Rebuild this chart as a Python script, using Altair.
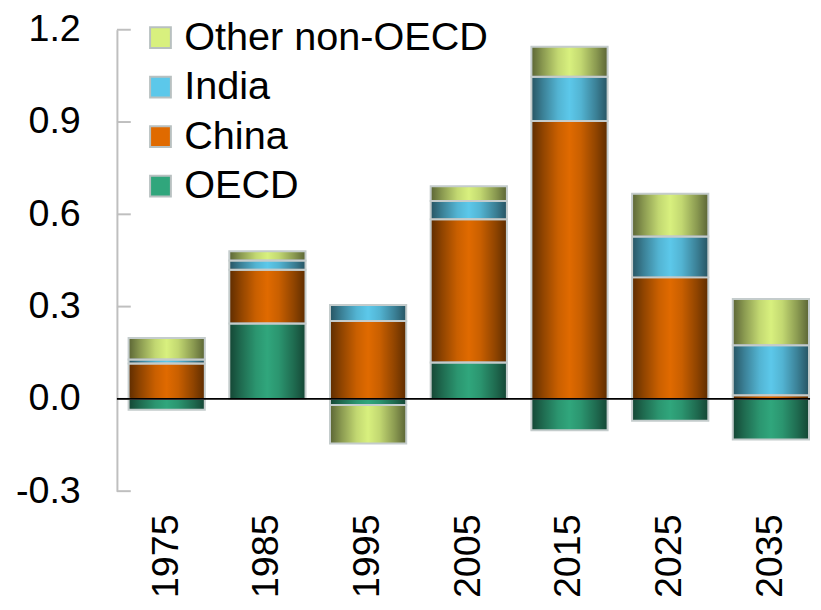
import altair as alt
import pandas as pd

years = ["1975", "1985", "1995", "2005", "2015", "2025", "2035"]
series = ["OECD", "China", "India", "Other non-OECD"]
oecd = [-0.035, 0.245, -0.02, 0.118, -0.102, -0.071, -0.132]
china = [0.115, 0.175, 0.253, 0.466, 0.903, 0.395, 0.012]
india = [0.013, 0.03, 0.052, 0.059, 0.144, 0.133, 0.162]
other = [0.07, 0.03, -0.125, 0.048, 0.098, 0.139, 0.151]
y_ticks = [-0.3, 0.0, 0.3, 0.6, 0.9, 1.2]

legend_order = ["Other non-OECD", "India", "China", "OECD"]
legend_colors = ["#d8f07e", "#5cc8ea", "#e06a00", "#30a67c"]

rows = []
for vals, name, idx in [(oecd, "OECD", 0), (china, "China", 1), (india, "India", 2), (other, "Other non-OECD", 3)]:
    for yr, v in zip(years, vals):
        rows.append({"year": yr, "series": name, "idx": idx, "value": v})
df = pd.DataFrame(rows)
ticks_df = pd.DataFrame({"value": y_ticks})
zero_df = pd.DataFrame({"value": [0.0]})

FONT = "Liberation Sans"

x_enc = alt.X(
    "year:N",
    sort=years,
    title=None,
    scale=alt.Scale(paddingInner=0.243, paddingOuter=0.063, align=0.92),
    axis=alt.Axis(labelAngle=-90, domain=False, ticks=False, labelPadding=23,
                  labelFontSize=38, labelFont=FONT, labelColor="#000000"),
)

y_scale = alt.Scale(domain=[-0.3, 1.2], nice=False, zero=False)
y_axis = alt.Axis(values=y_ticks, format=".1f",
                  labelExpr="replace(datum.label, '\u2212', '-')",
                  tickSize=0, labelPadding=37,
                  grid=False, domainColor="#bfbfbf", domainWidth=2,
                  labelFontSize=38, labelFont=FONT, labelColor="#000000")

y_enc = alt.Y("sum(value):Q", title=None, scale=y_scale, axis=y_axis)

bars = alt.Chart(df).mark_bar(strokeWidth=0).encode(
    x=x_enc,
    y=y_enc,
    color=alt.Color(
        "series:N",
        scale=alt.Scale(domain=legend_order, range=legend_colors),
        legend=alt.Legend(
            title=None, orient="none", legendX=24, legendY=-12,
            symbolType="square", symbolSize=441, symbolStrokeColor="#b8c0c0",
            symbolStrokeWidth=2, symbolOpacity=1, labelFontSize=40, labelFont=FONT,
            labelColor="#000000", labelOffset=4, rowPadding=10, padding=0,
            labelLimit=0,
        ),
    ),
    order=alt.Order("idx:Q"),
)

shade = alt.LinearGradient(
    gradient="linear",
    x1=0, x2=1, y1=0, y2=0,
    stops=[
        alt.GradientStop(color="rgba(0,0,0,0.58)", offset=0),
        alt.GradientStop(color="rgba(0,0,0,0.36)", offset=0.15),
        alt.GradientStop(color="rgba(0,0,0,0.1)", offset=0.35),
        alt.GradientStop(color="rgba(0,0,0,0)", offset=0.5),
        alt.GradientStop(color="rgba(0,0,0,0.1)", offset=0.65),
        alt.GradientStop(color="rgba(0,0,0,0.36)", offset=0.85),
        alt.GradientStop(color="rgba(0,0,0,0.58)", offset=1),
    ],
)

overlay = alt.Chart(df).mark_bar(fill=shade, stroke="#c4cccc", strokeWidth=2).encode(
    x=x_enc,
    y=y_enc,
    detail="series:N",
    order=alt.Order("idx:Q"),
)

tick_marks = alt.Chart(ticks_df).mark_rule(color="#bfbfbf", strokeWidth=2).encode(
    y=alt.Y("value:Q", title=None, scale=y_scale, axis=y_axis),
    x=alt.value(0),
    x2=alt.value(14),
)

zero_line = alt.Chart(zero_df).mark_rule(color="#000000", strokeWidth=2).encode(
    y=alt.Y("value:Q", title=None, scale=y_scale, axis=y_axis),
)

chart = alt.layer(bars, overlay, tick_marks, zero_line).properties(
    width=700,
    height=466,
    autosize=alt.AutoSizeParams(type="none"),
    padding={"left": 110, "top": 19, "right": 3, "bottom": 112},
    background="#ffffff",
).configure_view(stroke=None)

chart.save("out.html", embed_options={"renderer": "svg", "actions": False})
